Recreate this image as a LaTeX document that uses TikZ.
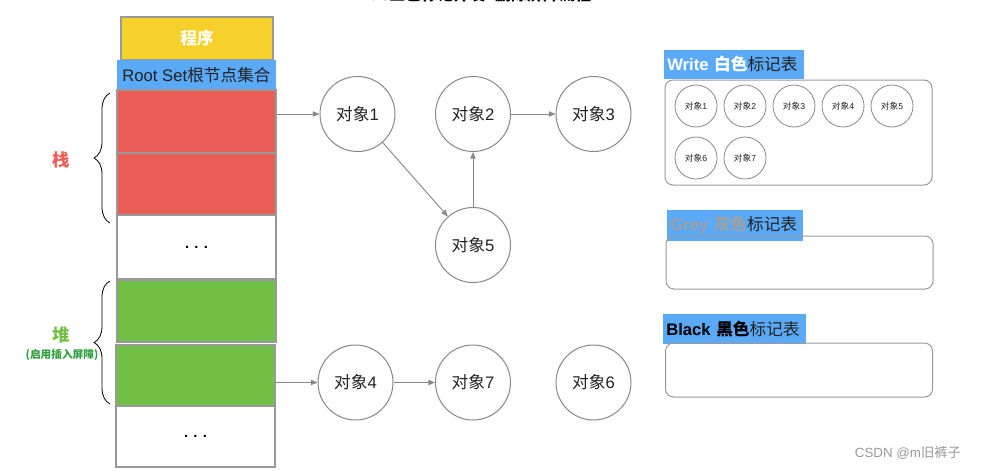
\documentclass[tikz,border=0pt]{standalone}
\usepackage{fontspec}
\setmainfont{Liberation Sans}
\newfontfamily\cjk{Noto Sans CJK SC}
\usetikzlibrary{arrows.meta,decorations.pathreplacing}
\definecolor{cyellow}{HTML}{F6D12C}
\definecolor{cblue}{HTML}{5AAAF8}
\definecolor{cred}{HTML}{EB5E58}
\definecolor{cgreen}{HTML}{71BF44}
\definecolor{cdkgreen}{HTML}{2E9E3E}
\definecolor{cborder}{HTML}{999999}
\definecolor{cline}{HTML}{888888}
\definecolor{cgreytxt}{HTML}{A0A0A0}
\definecolor{ctext}{HTML}{222222}
\newcommand\dx{对象}
\begin{document}
\begin{tikzpicture}[x=0.75pt,y=-0.75pt,
  cell/.style={draw=cborder,line width=0.8pt,minimum width=159*0.75pt,inner sep=0pt},
  obj/.style={circle,draw=cline,line width=0.75pt,minimum size=75*0.75pt,inner sep=0pt,font=\fontsize{12.5}{14}\selectfont,text=ctext},
  sobj/.style={circle,draw=cline,line width=0.6pt,minimum size=42*0.75pt,inner sep=0pt,font=\fontsize{6.5}{7}\selectfont,text=ctext},
  arr/.style={draw=cline,line width=0.7pt,-{Triangle[length=5pt,width=4pt]}},
  panel/.style={draw=cborder,line width=0.75pt,rounded corners=6pt,minimum width=267*0.75pt,inner sep=0pt},
  lbl/.style={fill=cblue,inner xsep=3*0.75pt,inner ysep=0pt,align=left,font=\fontsize{12.5}{14}\selectfont,text=ctext},
  brc/.style={draw=black,line width=0.6pt,decorate,decoration={brace,amplitude=12pt,aspect=0.5}}
]
\useasboundingbox (0,0) rectangle (985,471);

% title (cut off at top, as in the reference)
\node[anchor=base,font=\cjk\bfseries\fontsize{12}{14}\selectfont] (title) at (479,1) {GC三色标记并发+删除屏障流程};

% left column
\node[cell,fill=cyellow,minimum width=152*0.75pt,minimum height=43*0.75pt,text=white,font=\cjk\bfseries\fontsize{12.5}{14}\selectfont] (prog) at (197,38.5) {程序};
\node[cell,draw=none,fill=cblue,minimum height=30*0.75pt,font=\fontsize{12.5}{14}\selectfont,text=ctext] (root) at (196.5,75) {Root Set{\cjk 根节点集合}};
\node[cell,fill=cred,minimum height=63*0.75pt] (r1) at (196.5,121.5) {};
\node[cell,fill=cred,minimum height=62*0.75pt] (r2) at (196.5,184) {};
\node[cell,fill=white,minimum height=64*0.75pt,font=\bfseries\fontsize{11}{12}\selectfont] (w1) at (196.5,247) {.\hspace{4pt}.\hspace{4pt}.};
\node[cell,fill=cgreen,minimum height=62*0.75pt] (g1) at (196.5,311) {};
\node[cell,fill=cgreen,minimum height=61*0.75pt] (g2) at (195.5,375.5) {};
\node[cell,fill=white,minimum height=61*0.75pt,font=\bfseries\fontsize{11}{12}\selectfont] (w2) at (195.5,436.5) {.\hspace{4pt}.\hspace{4pt}.};

% braces and labels
\draw[brc] (110,223) -- (110,93);
\draw[brc] (110,404) -- (110,281);
\node[text=cred,font=\cjk\bfseries\fontsize{13}{14}\selectfont] (zhan) at (61,160) {栈};
\node[text=cgreen,font=\cjk\bfseries\fontsize{13}{14}\selectfont] (dui) at (61,335) {堆};
\node[text=cdkgreen,font=\cjk\bfseries\fontsize{8}{9}\selectfont] (duinote) at (62,355) {(启用插入屏障)};

% object graph
\node[obj] (o1) at (357.5,114) {{\cjk\dx}1};
\node[obj] (o2) at (473,114) {{\cjk\dx}2};
\node[obj] (o3) at (593.5,114) {{\cjk\dx}3};
\node[obj] (o5) at (473,245) {{\cjk\dx}5};
\node[obj] (o4) at (355.5,382.5) {{\cjk\dx}4};
\node[obj] (o7) at (473,382.5) {{\cjk\dx}7};
\node[obj] (o6) at (593.5,382.5) {{\cjk\dx}6};

\coordinate (s1) at (r1.east |- o1);
\coordinate (s4) at (g2.east |- o4);
\draw[arr] (s1) -- (o1);
\draw[arr] (o1) -- (o5);
\draw[arr] (o5) -- (o2);
\draw[arr] (o2) -- (o3);
\draw[arr] (s4) -- (o4);
\draw[arr] (o4) -- (o7);

% right panels
\node[lbl,anchor=west,text width=134*0.75pt,minimum height=29*0.75pt] (wl) at (664,64.5) {\textbf{\color{white}Write {\cjk 白色}}{\cjk 标记表}};
\node[panel,minimum height=105*0.75pt] (wp) at (798.5,132.5) {};
\node[sobj] (s1o) at (696,106) {{\cjk\dx}1};
\node[sobj] (s2o) at (745,106) {{\cjk\dx}2};
\node[sobj] (s3o) at (794,106) {{\cjk\dx}3};
\node[sobj] (s4o) at (843,106) {{\cjk\dx}4};
\node[sobj] (s5o) at (892,106) {{\cjk\dx}5};
\node[sobj] (s6o) at (696,158) {{\cjk\dx}6};
\node[sobj] (s7o) at (745,158) {{\cjk\dx}7};

\node[lbl,anchor=west,text width=130*0.75pt,minimum height=31*0.75pt] (gl) at (667,225.5) {\textbf{\color{cgreytxt}Grey {\cjk 灰色}}{\cjk 标记表}};
\node[panel,minimum height=53*0.75pt] (gp) at (799.5,262.5) {};

\node[lbl,anchor=west,text width=137*0.75pt,minimum height=30*0.75pt] (bl) at (663,329) {\textbf{\color{black}Black {\cjk 黑色}}{\cjk 标记表}};
\node[panel,minimum height=54*0.75pt] (bp) at (799,370) {};

% watermark
\node[text=cborder,font=\fontsize{10}{12}\selectfont] (wm) at (908,453) {CSDN @m{\cjk 旧裤子}};
\end{tikzpicture}
\end{document}
